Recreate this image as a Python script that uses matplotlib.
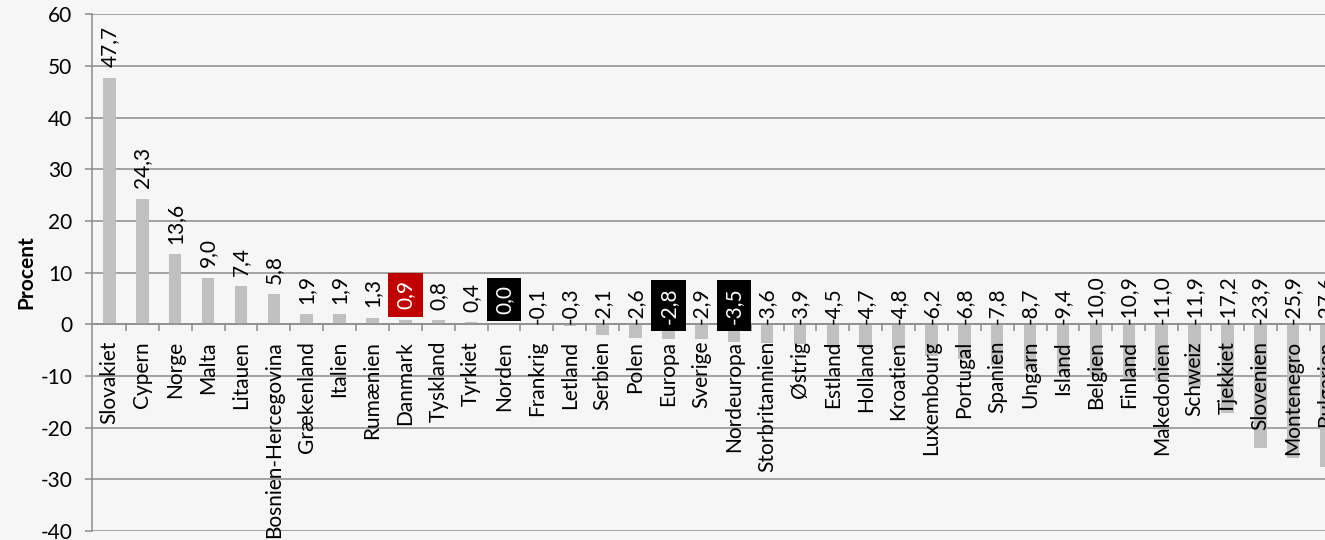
import numpy as np
import matplotlib.pyplot as plt

# data (percent change)
lande = ["Slovakiet", "Cypern", "Norge", "Malta", "Litauen", "Bosnien-Hercegovina",
         "Grækenland", "Italien", "Rumænien", "Danmark", "Tyskland", "Tyrkiet",
         "Norden", "Frankrig", "Letland", "Serbien", "Polen", "Europa", "Sverige",
         "Nordeuropa", "Storbritannien", "Østrig", "Estland", "Holland", "Kroatien",
         "Luxembourg", "Portugal", "Spanien", "Ungarn", "Island", "Belgien",
         "Finland", "Makedonien", "Schweiz", "Tjekkiet", "Slovenien", "Montenegro",
         "Bulgarien"]
vaerdier = [47.7, 24.3, 13.6, 9.0, 7.4, 5.8, 1.9, 1.9, 1.3, 0.9, 0.8, 0.4,
            0.0, -0.1, -0.3, -2.1, -2.6, -2.8, -2.9, -3.5, -3.6, -3.9, -4.5, -4.7,
            -4.8, -6.2, -6.8, -7.8, -8.7, -9.4, -10.0, -10.9, -11.0, -11.9, -17.2,
            -23.9, -25.9, -27.6]
fremhaev = {"Danmark": "#C00000", "Norden": "black", "Europa": "black", "Nordeuropa": "black"}

plt.rcParams['font.family'] = ['Lato', 'DejaVu Sans']
plt.rcParams['axes.unicode_minus'] = False
bg = "#F6F6F6"
grid_col = "#8C8C8C"

fig = plt.figure(figsize=(13.25, 5.4), dpi=100, facecolor=bg)
W, H = 1325, 540
# axes extends past the right edge, the chart is cut there
left_px, top_px, bot_px = 91.7, 14.2, 531
ax = fig.add_axes([left_px / W, 1 - bot_px / H, 1250.8 / W, (bot_px - top_px) / H])
ax.set_facecolor(bg)

x = np.arange(len(lande))
ax.bar(x, vaerdier, width=0.38, color="#C0C0C0", zorder=2)

ax.set_xlim(-0.54, 37.5)
ax.set_ylim(-40, 60)
ax.set_yticks(range(-40, 61, 10))
ax.yaxis.grid(True, color=grid_col, linewidth=1.1)
ax.set_axisbelow(True)

for s in ["top", "right"]:
    ax.spines[s].set_visible(False)
ax.spines["left"].set_color(grid_col)
ax.spines["left"].set_linewidth(1.1)
ax.spines["bottom"].set_position(("data", 0))
ax.spines["bottom"].set_color(grid_col)
ax.spines["bottom"].set_linewidth(1.1)

# boundaries between categories get the tick marks
ax.set_xticks(x[:-1] + 0.5)
ax.set_xticklabels([])
ax.tick_params(axis="x", length=5, width=1.1, color=grid_col, direction="out")
ax.tick_params(axis="y", length=5, width=1.1, color=grid_col, labelsize=15, pad=9)

ax.set_ylabel("Procent", fontsize=15, fontweight="bold", labelpad=3)

# category names as text so they sit on top of the bars
for xi, navn in zip(x, lande):
    ax.annotate(navn, (xi, 0), xytext=(0, -12), textcoords="offset points",
                rotation=90, ha="center", va="top", fontsize=15, zorder=5)

for xi, navn, v in zip(x, lande, vaerdier):
    tekst = f"{v:.1f}".replace(".", ",")
    y0 = v if v >= 0 else 0
    off = 7.5 if v >= 0 else 0.5
    kw = dict(rotation=90, ha="center", va="bottom", fontsize=15, zorder=4)
    if navn in fremhaev:
        kw["color"] = "white"
        kw["bbox"] = dict(boxstyle="square,pad=0.35", fc=fremhaev[navn], ec="none")
    ax.annotate(tekst, (xi, y0), xytext=(0, off), textcoords="offset points", **kw)

fig.savefig("out.png", dpi=100, facecolor=bg)
